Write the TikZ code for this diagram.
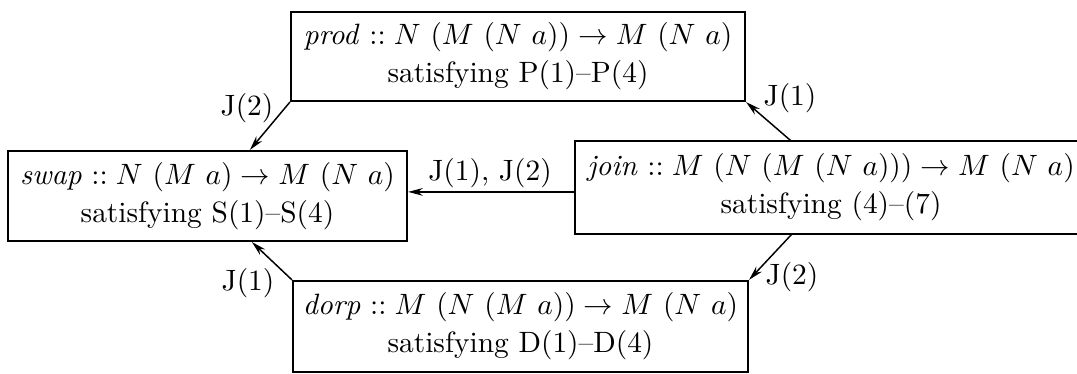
\documentclass[tikz,border=0pt]{standalone}
\usepackage{amsmath,amssymb}
\usepackage{tikz}
\usetikzlibrary{arrows.meta,positioning,calc}

\tikzset{
  fnbox/.style={draw,line width=0.7pt,align=center,inner sep=0pt},
  conn/.style={-{Stealth[length=5pt,width=2.6pt]},line width=0.5pt},
  lbl/.style={font=\normalsize}
}

\begin{document}
\begin{tikzpicture}[x=0.34pt,y=-0.34pt]
  \useasboundingbox (0,0) rectangle (1077,374);
  % the four functions
  \node[fnbox,minimum width=154.4pt,minimum height=30.3pt] (prod) at (518,56.5)
    {\textit{prod} $::N\ (M\ (N\ a))\to M\ (N\ a)$\\[1pt] satisfying P(1)--P(4)};
  \node[fnbox,minimum width=135.7pt,minimum height=30.6pt] (swap) at (207.5,196)
    {\textit{swap} $::N\ (M\ a)\to M\ (N\ a)$\\[1pt] satisfying S(1)--S(4)};
  \node[fnbox,draw=none,minimum width=173.4pt,minimum height=31pt] (join) at (831,187.5)
    {\textit{join} $::M\ (N\ (M\ (N\ a)))\to M\ (N\ a)$\\[1pt] satisfying (4)--(7)};
  \node[fnbox,minimum width=154.7pt,minimum height=31pt] (dorp) at (520.5,326.5)
    {\textit{dorp} $::M\ (N\ (M\ a))\to M\ (N\ a)$\\[1pt] satisfying D(1)--D(4)};
  % join runs off the page on the right
  \draw[line width=0.7pt] ([xshift=20pt]join.north east) -- (join.north west)
    -- (join.south west) -- ([xshift=20pt]join.south east);
  % derivations
  \draw[conn] (prod.south west) -- ([xshift=14.4pt]swap.north);
  \draw[conn] ([xshift=-13.6pt]join.north) -- (prod.south east);
  \draw[conn] ([yshift=-1.5pt]join.west) -- ([yshift=-1.5pt]swap.east |- join.west);
  \draw[conn] (dorp.north west) -- ([xshift=15.1pt]swap.south);
  \draw[conn] ([xshift=-13.3pt]join.south) -- (dorp.north east);
  % labels
  \node[lbl] (lprod) at (247,108) {J(2)};
  \node[lbl] (ljoin) at (790,98) {J(1)};
  \node[lbl] (lswap) at (490,173) {J(1), J(2)};
  \node[lbl] (ldorp) at (248,283) {J(1)};
  \node[lbl] (ljd) at (792,277) {J(2)};
\end{tikzpicture}
\end{document}
